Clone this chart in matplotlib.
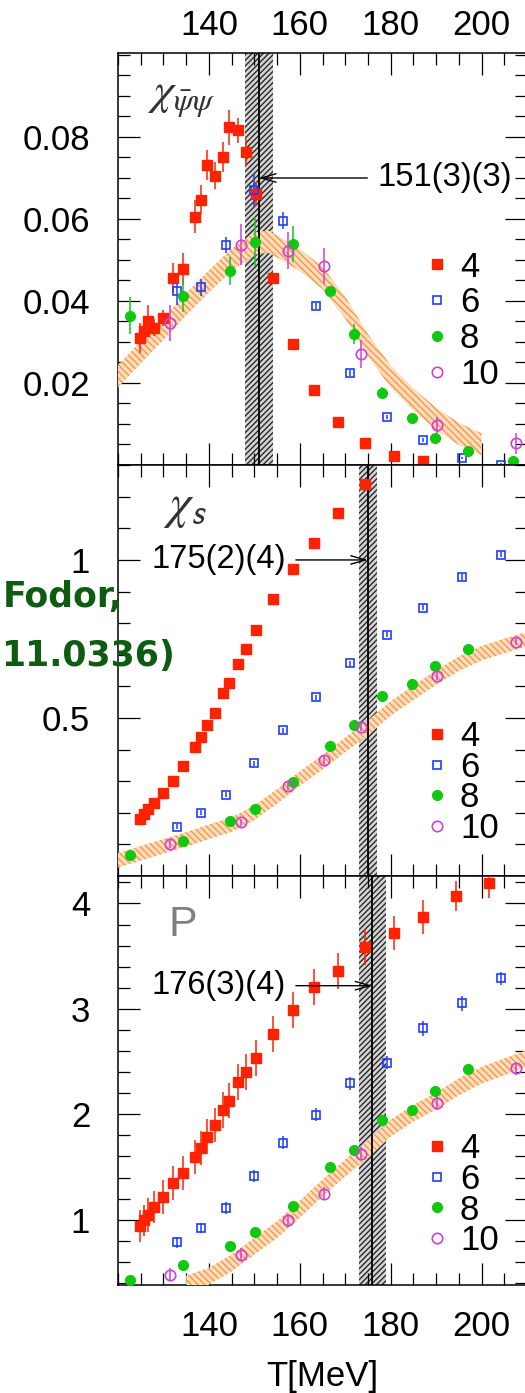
import numpy as np
import matplotlib.pyplot as plt
from matplotlib.ticker import MultipleLocator

plt.rcParams['font.family'] = ['Liberation Sans', 'DejaVu Sans']
plt.rcParams['mathtext.fontset'] = 'stix'
plt.rcParams['hatch.linewidth'] = 1.0

# ---- lattice results, one set of temperatures per N_t ----
T4 = [124.9, 125.7, 126.7, 127.9, 129.8, 132.0, 134.2, 137.0, 138.3, 139.5,
      141.4, 143.2, 144.5, 146.3, 148.1, 150.3, 154.1, 158.4, 163.2, 168.5,
      174.4, 180.7, 187.1, 194.3, 201.7]
T6 = [132.9, 138.2, 143.7, 149.9, 156.4, 163.6, 171.0, 179.1, 187.1, 195.8, 204.2]
T8 = [122.6, 134.2, 144.7, 150.2, 158.4, 166.7, 172.0, 178.1, 184.6, 189.7, 197.0, 206.9]
T10 = [131.4, 147.0, 157.5, 165.4, 173.5, 190.1, 207.5]

# chiral susceptibility
pbp4 = [0.0310, 0.0327, 0.0351, 0.0335, 0.0358, 0.0457, 0.0478, 0.0606, 0.0647, 0.0731,
        0.0706, 0.0751, 0.0824, 0.0816, 0.0763, 0.0661, 0.0457, 0.0294, 0.0184, 0.0106,
        0.0053, 0.0021, 0.0009, np.nan, np.nan]
pbp4_err = [0.0037, 0.0030, 0.0040, 0.0020, 0.0020, 0.0035, 0.0040, 0.0040, 0.0035, 0.0037,
            0.0033, 0.0037, 0.0043, 0.0030, 0.0033, 0.0030, 0.0010, 0.0005, 0.0003, 0.0003,
            0.0003, 0.0002, 0.0002, 0.0, 0.0]
pbp6 = [0.0425, 0.0433, 0.0537, 0.0670, 0.0596, 0.0388, 0.0225, 0.0116, 0.0062, 0.0017, 0.0001]
pbp6_err = [0.0035, 0.0020, 0.0020, 0.0040, 0.0020, 0.0007, 0.0007, 0.0005, 0.0005, 0.0003, 0.0003]
pbp8 = [0.0364, 0.0413, 0.0474, 0.0545, 0.0539, 0.0425, 0.0319, 0.0176, 0.0115, 0.0065, 0.0033, 0.0009]
pbp8_err = [0.0045, 0.0040, 0.0034, 0.0060, 0.0045, 0.0010, 0.0025, 0.0015, 0.0008, 0.0008, 0.0005, 0.0005]
pbp10 = [0.0347, 0.0537, 0.0523, 0.0486, 0.0271, 0.0098, 0.0053]
pbp10_err = [0.0044, 0.0050, 0.0045, 0.0044, 0.0034, 0.0020, 0.0025]

# strange quark number susceptibility
chis4 = [0.180, 0.195, 0.212, 0.232, 0.263, 0.302, 0.347, 0.409, 0.441, 0.479,
         0.517, 0.580, 0.612, 0.670, 0.719, 0.777, 0.878, 0.972, 1.055, 1.149,
         1.239, np.nan, np.nan, np.nan, np.nan]
chis6 = [0.156, 0.201, 0.258, 0.357, 0.461, 0.566, 0.673, 0.763, 0.849, 0.946, 1.016]
chis6_err = [0.008] * 11
chis8 = [0.066, 0.112, 0.175, 0.211, 0.298, 0.412, 0.479, 0.569, 0.607, 0.663, 0.717, np.nan]
chis10 = [0.102, 0.170, 0.284, 0.367, 0.472, 0.633, 0.742]
chis10_err = [0.012] * 7

# Polyakov loop
P4 = [0.943, 0.994, 1.047, 1.120, 1.215, 1.347, 1.442, 1.594, 1.679, 1.789,
      1.900, 2.042, 2.130, 2.304, 2.405, 2.532, 2.762, 2.989, 3.204, 3.362,
      3.589, 3.722, 3.873, 4.069, 4.195]
P4_err = [0.15, 0.15, 0.16, 0.15, 0.16, 0.16, 0.16, 0.16, 0.16, 0.17,
          0.16, 0.17, 0.17, 0.17, 0.17, 0.17, 0.17, 0.17, 0.17, 0.17,
          0.17, 0.16, 0.16, 0.14, 0.14]
P6 = [0.784, 0.921, 1.110, 1.416, 1.732, 1.995, 2.295, 2.490, 2.816, 3.053, 3.289]
P6_err = [0.05, 0.05, 0.06, 0.06, 0.06, 0.06, 0.06, 0.06, 0.07, 0.07, 0.06]
P8 = [0.425, 0.574, 0.754, 0.879, 1.132, 1.499, 1.663, 1.941, 2.042, 2.225, 2.427, np.nan]
P10 = [0.479, 0.668, 0.993, 1.246, 1.625, 2.105, 2.437]
P10_err = [0.06] * 7

# continuum extrapolated bands (centre, half width)
band_pbp_T = [120, 125, 130, 135, 140, 145, 150, 153, 155, 160, 165, 170, 175, 180, 185, 190, 195, 200]
band_pbp = [0.0216, 0.0275, 0.0332, 0.0392, 0.0448, 0.0500, 0.0540, 0.0545, 0.0533, 0.0500,
            0.0456, 0.0384, 0.0292, 0.0216, 0.0160, 0.0112, 0.0076, 0.0050]
band_pbp_hw = 0.0027
band_chis_T = [120, 125, 130, 135, 140, 145, 150, 155, 160, 165, 170, 175, 180, 185, 190, 195, 200, 205, 210]
band_chis = [0.050, 0.072, 0.094, 0.116, 0.140, 0.163, 0.200, 0.252, 0.308, 0.360,
             0.415, 0.470, 0.530, 0.580, 0.628, 0.672, 0.705, 0.728, 0.750]
band_chis_hw = 0.023
band_P_T = [135, 140, 145, 150, 155, 160, 165, 170, 175, 180, 185, 190, 195, 200, 205, 210]
band_P = [0.39, 0.463, 0.59, 0.748, 0.906, 1.10, 1.30, 1.49, 1.67, 1.868,
          2.01, 2.125, 2.26, 2.37, 2.45, 2.53]
band_P_hw = 0.08

# transition temperatures
Tc = [151, 175, 176]
Tc_err = [3, 2, 3]
Tc_text = ['151(3)(3)', '175(2)(4)', '176(3)(4)']

nt_labels = ['4', '6', '8', '10']
styles = [
    dict(marker='s', color='#ff2200', mfc='#ff2200', mec='#ff2200', ms=6.5),
    dict(marker='s', color='#1f3dff', mfc='none', mec='#1f3dff', ms=5.5, mew=1.2),
    dict(marker='o', color='#10c810', mfc='#10c810', mec='#10c810', ms=7),
    dict(marker='o', color='#d040d8', mfc='none', mec='#d040d8', ms=7.5, mew=1.2),
]

fig = plt.figure(figsize=(5.25, 13.93), dpi=100)
left, width = 0.2248, 0.779
ax1 = fig.add_axes([left, 0.6662, width, 0.2958])
ax2 = fig.add_axes([left, 0.3711, width, 0.2950])
ax3 = fig.add_axes([left, 0.0775, width, 0.2936])
axes = [ax1, ax2, ax3]


def draw_points(ax, sets):
    handles = []
    for (T, y, err), st in zip(sets, styles):
        eb = ax.errorbar(T, y, yerr=err, ls='none', elinewidth=1.1, capsize=0,
                         zorder=5, **st)
        handles.append(eb[0])
    return handles


def draw_bands(ax, tc, dtc, bT, bc, hw):
    ax.axvspan(tc - dtc, tc + dtc, facecolor='#d4d4d4', edgecolor='#2a2a2a',
               hatch='//////', lw=0, zorder=1)
    bc = np.array(bc)
    ax.fill_between(bT, bc - hw, bc + hw, facecolor='#fdddbd', edgecolor='#f59848',
                    hatch='\\\\\\\\\\', lw=0, zorder=3)
    ax.axvline(tc, color='k', lw=1.3, zorder=3.5)


draw_bands(ax1, Tc[0], Tc_err[0], band_pbp_T, band_pbp, band_pbp_hw)
draw_bands(ax2, Tc[1], Tc_err[1], band_chis_T, band_chis, band_chis_hw)
draw_bands(ax3, Tc[2], Tc_err[2], band_P_T, band_P, band_P_hw)

h1 = draw_points(ax1, [(T4, pbp4, pbp4_err), (T6, pbp6, pbp6_err),
                       (T8, pbp8, pbp8_err), (T10, pbp10, pbp10_err)])
h2 = draw_points(ax2, [(T4, chis4, None), (T6, chis6, chis6_err),
                       (T8, chis8, None), (T10, chis10, chis10_err)])
h3 = draw_points(ax3, [(T4, P4, P4_err), (T6, P6, P6_err),
                       (T8, P8, None), (T10, P10, P10_err)])

# legends
for ax, h, yc, sp in [(ax1, h1, 0.350, 0.08), (ax2, h2, 0.2275, -0.07), (ax3, h3, 0.221, -0.066)]:
    ax.legend(h, nt_labels, loc='center left', bbox_to_anchor=(0.751, yc),
              frameon=False, fontsize=25, handlelength=0.7, handletextpad=0.3,
              borderpad=0, borderaxespad=0, labelspacing=sp, numpoints=1)

# observable labels
ax1.text(126.6, 0.0895, r'$\chi_{\bar{\psi}\psi}$', fontsize=33, color='#333333',
         va='center', ha='left')
ax2.text(129.8, 1.165, r'$\chi_{\mathsf{s}}$', fontsize=35, color='#333333',
         va='center', ha='left')
ax3.text(131, 3.8, 'P', fontsize=31, color='#808080', va='center', ha='left')

# transition temperature arrows
arrow = dict(arrowstyle='->,head_length=0.45,head_width=0.13', color='k', lw=1.0,
             shrinkA=5, shrinkB=0)
ax1.annotate(Tc_text[0], xy=(Tc[0], 0.07), xytext=(177, 0.07), fontsize=23.5,
             ha='left', va='center', arrowprops=arrow, zorder=6)
ax2.annotate(Tc_text[1], xy=(Tc[1], 1.0), xytext=(157, 1.0), fontsize=23.5,
             ha='right', va='center', arrowprops=arrow, zorder=6)
ax3.annotate(Tc_text[2], xy=(Tc[2], 3.22), xytext=(157, 3.22), fontsize=23.5,
             ha='right', va='center', arrowprops=arrow, zorder=6)

# axes cosmetics
for ax in axes:
    ax.set_xlim(120, 210)
    ax.set_xticks([140, 160, 180, 200])
    ax.xaxis.set_minor_locator(MultipleLocator(5))
    ax.tick_params(which='both', direction='in', top=True, right=True, width=0.9,
                   labelsize=25)
    ax.tick_params(which='major', length=15.8)
    ax.tick_params(which='minor', length=8.6)
    ax.tick_params(axis='y', pad=20)
    for sp in ax.spines.values():
        sp.set_linewidth(1.1)

ax1.set_ylim(0, 0.1005)
ax1.set_yticks([0.02, 0.04, 0.06, 0.08], ['0.02', '0.04', '0.06', '0.08'])
ax1.yaxis.set_minor_locator(MultipleLocator(0.005))
ax1.tick_params(axis='x', labeltop=True, labelbottom=False, pad=8)

ax2.set_ylim(0, 1.3)
ax2.set_yticks([0.5, 1.0], ['0.5', '1'])
ax2.yaxis.set_minor_locator(MultipleLocator(0.1))
ax2.tick_params(axis='x', labelbottom=False)

ax3.set_ylim(0.38, 4.26)
ax3.set_yticks([1, 2, 3, 4], ['1', '2', '3', '4'])
ax3.yaxis.set_minor_locator(MultipleLocator(0.2))
ax3.tick_params(axis='x', pad=18)
ax3.set_xlabel('T[MeV]', fontsize=25, labelpad=12)

# reference note written over the left margin
fig.text(3 / 525, 1 - 607 / 1393, 'Fodor,', fontsize=25, fontweight='bold',
         color='#0d5c12', family='DejaVu Sans', va='baseline', ha='left', zorder=10)
fig.text(1 / 525, 1 - 666 / 1393, '11.0336)', fontsize=25, fontweight='bold',
         color='#0d5c12', family='DejaVu Sans', va='baseline', ha='left', zorder=10)

fig.savefig('out.png', dpi=100)
